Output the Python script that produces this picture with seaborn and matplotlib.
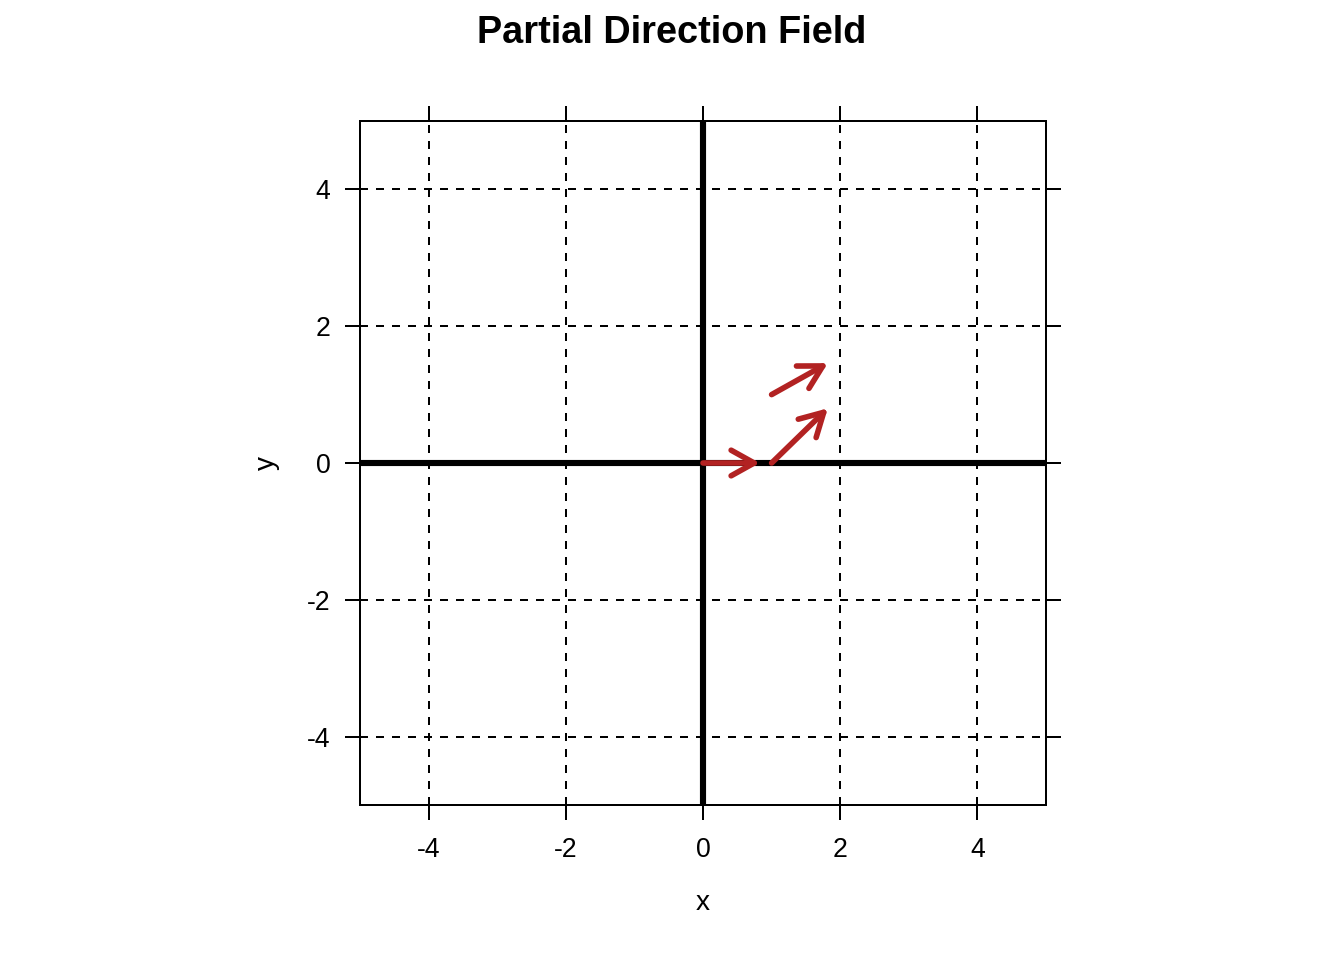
import numpy as np
import seaborn as sns
import matplotlib.pyplot as plt

# arrow start / end points
x_start = [0.0, 1.0, 1.0]
y_start = [0.0, 0.0, 1.0]
x_end = [0.83, 1.82, 1.82]
y_end = [0.0, 0.80, 1.46]

tick_vals = [-4, -2, 0, 2, 4]
lims = (-5, 5)

sns.set_theme(style="white")
plt.rcParams['font.family'] = ['Liberation Sans', 'DejaVu Sans']
plt.rcParams['text.color'] = 'black'

fig = plt.figure(figsize=(7, 5), dpi=192)
ax = fig.add_axes([360 / 1344, 1 - 805 / 960, 686 / 1344, 684 / 960])

# dashed grid
for v in tick_vals:
    ax.axvline(v, color='black', lw=0.75, ls=(0, (4, 4)), zorder=1)
    ax.axhline(v, color='black', lw=0.75, ls=(0, (4, 4)), zorder=1)

# thick axes through the origin
sns.lineplot(x=list(lims), y=[0, 0], color='black', lw=2.3, ax=ax, zorder=2,
             sort=False, estimator=None)
sns.lineplot(x=[0, 0], y=list(lims), color='black', lw=2.3, ax=ax, zorder=2,
             sort=False, estimator=None)

# direction arrows
for xs, ys, xe, ye in zip(x_start, y_start, x_end, y_end):
    ax.annotate('', xy=(xe, ye), xytext=(xs, ys),
                arrowprops=dict(arrowstyle='->,head_length=0.72,head_width=0.4',
                                color='#B22222', lw=2.1, shrinkA=0, shrinkB=0,
                                capstyle='round', joinstyle='round'),
                zorder=3)

ax.set_xlim(lims)
ax.set_ylim(lims)
ax.set_xticks(tick_vals)
ax.set_yticks(tick_vals)
ax.set_xticklabels([str(v) for v in tick_vals])
ax.set_yticklabels([str(v) for v in tick_vals])
ax.tick_params(axis='both', which='both', direction='out', length=5.6, width=0.75,
               color='black', labelsize=10, labelcolor='black',
               top=True, right=True, bottom=True, left=True,
               labeltop=False, labelright=False)
ax.tick_params(axis='x', pad=6.5)
ax.tick_params(axis='y', pad=5.5)
for s in ax.spines.values():
    s.set_visible(True)
    s.set_color('black')
    s.set_linewidth(0.75)
ax.set_xlabel('')
ax.set_ylabel('')

ax.text(0.5, -0.144, 'x', transform=ax.transAxes, ha='center', va='center',
        fontsize=10.5, color='black')
ax.text(-0.135, 0.5, 'y', transform=ax.transAxes, ha='center', va='center',
        fontsize=10.5, rotation=90, color='black')
fig.text(0.5, 1 - 33 / 960, 'Partial Direction Field', ha='center', va='center',
         fontsize=14.2, fontweight='bold', color='black')

fig.savefig('out.png', dpi=192, facecolor='white')
